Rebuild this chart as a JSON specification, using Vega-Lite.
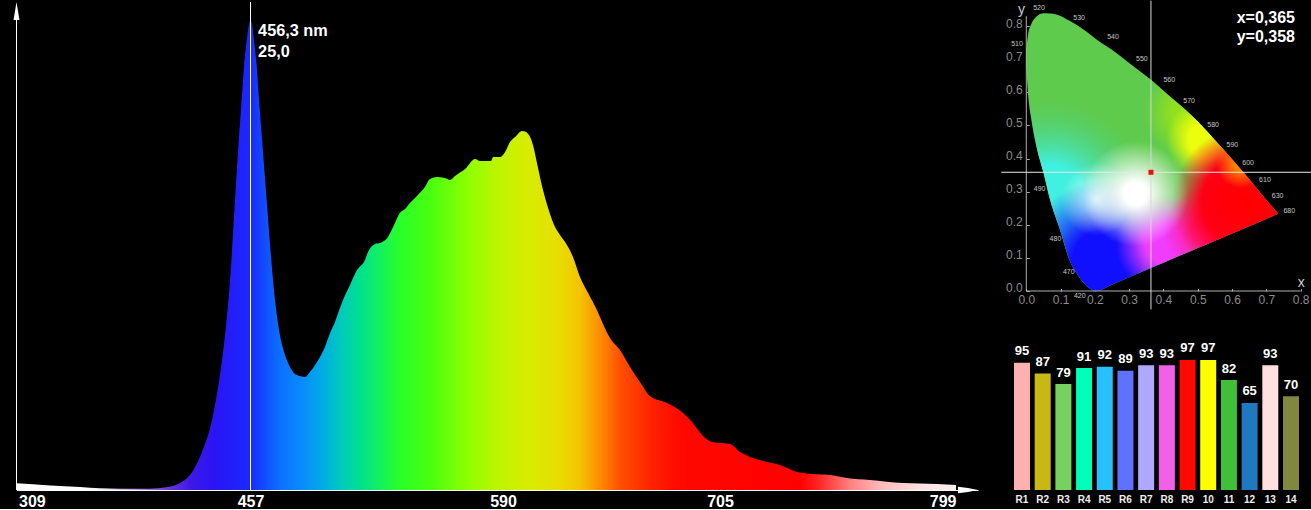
{
"$schema":"https://vega.github.io/schema/vega-lite/v6.json",
"background":"#000000","padding":0,"spacing":0,
"config":{"view":{"stroke":null},"font":"Liberation Sans","axis":{"grid":false,"labelOverlap":false,"labelFlush":false}},
"datasets":{
"gamut":[{"x":0,"y":0.728,"bot":0.678},{"x":0.005,"y":0.773,"bot":0.597},{"x":0.015,"y":0.807,"bot":0.517},{"x":0.03,"y":0.829,"bot":0.435},{"x":0.05,"y":0.839,"bot":0.358},{"x":0.07,"y":0.838,"bot":0.273},{"x":0.1,"y":0.831,"bot":0.18},{"x":0.125,"y":0.817,"bot":0.096},{"x":0.15,"y":0.802,"bot":0.048},{"x":0.175,"y":0.784,"bot":0.016},{"x":0.205,"y":0.76,"bot":0},{"x":0.25,"y":0.729,"bot":0.0198},{"x":0.3,"y":0.689,"bot":0.0418},{"x":0.365,"y":0.637,"bot":0.0703},{"x":0.4,"y":0.605,"bot":0.0857},{"x":0.45,"y":0.56,"bot":0.1077},{"x":0.5,"y":0.512,"bot":0.1297},{"x":0.55,"y":0.456,"bot":0.1517},{"x":0.6,"y":0.398,"bot":0.1736},{"x":0.65,"y":0.338,"bot":0.1956},{"x":0.7,"y":0.275,"bot":0.2176},{"x":0.735,"y":0.233,"bot":0.233}]
},
"hconcat":[
{"width":985,"height":490,
"encoding":{
"x":{"field":"nm","type":"quantitative","scale":{"domain":[309,457,590,705,799,815],"range":[16.5,250.5,503,720,956,978],"nice":false,"zero":false},
"axis":{"title":null,"values":[309,457,590,705,799],"format":"d","ticks":false,"domain":true,"domainColor":"#ffffff","domainWidth":1,"labelColor":"#ffffff","labelFont":"Liberation Sans","labelFontSize":16,"labelFontWeight":"bold","labelPadding":3,"labelAngle":0,"labelAlign":{"expr":"datum.value==309?'left':datum.value==799?'right':'center'"},"labelOffset":{"expr":"datum.value==309?2:0"}}},
"y":{"field":"v","type":"quantitative","scale":{"domain":[0,26.09],"nice":false},"axis":null}},
"layer":[
{"data":{"values":[
{"nm":309,"v":0.36},{"nm":319.4,"v":0.3},{"nm":336.5,"v":0.21},{"nm":349.2,"v":0.16},{"nm":361.8,"v":0.09},{"nm":374.5,"v":0.07},{"nm":393.4,"v":0.07},{"nm":403.6,"v":0.14},{"nm":412.4,"v":0.37},{"nm":418.7,"v":0.8},{"nm":425.1,"v":1.77},{"nm":428.2,"v":2.45},{"nm":431.4,"v":3.27},{"nm":434.6,"v":4.55},{"nm":437.7,"v":6.12},{"nm":440.9,"v":8.25},{"nm":444.1,"v":11.18},{"nm":447.2,"v":15.44},{"nm":449.1,"v":18.0},{"nm":451.4,"v":20.77},{"nm":452.9,"v":22.52},{"nm":454.8,"v":24.07},{"nm":456.1,"v":24.81},{"nm":457,"v":25.0},{"nm":457.8,"v":24.81},{"nm":458.8,"v":23.96},{"nm":460.3,"v":22.52},{"nm":461.5,"v":20.77},{"nm":463.1,"v":18.64},{"nm":465.5,"v":15.44},{"nm":467.3,"v":13.05},{"nm":469.9,"v":10.12},{"nm":472.5,"v":8.25},{"nm":475.2,"v":7.19},{"nm":477.8,"v":6.55},{"nm":480.4,"v":6.18},{"nm":483.1,"v":6.07},{"nm":485.7,"v":6.02},{"nm":488.3,"v":6.28},{"nm":491,"v":6.66},{"nm":493.6,"v":7.08},{"nm":496.2,"v":7.61},{"nm":498.9,"v":8.36},{"nm":501.5,"v":8.95},{"nm":504.1,"v":9.69},{"nm":505.7,"v":10.12},{"nm":509.4,"v":10.92},{"nm":513.1,"v":11.71},{"nm":517.3,"v":12.25},{"nm":518.9,"v":12.67},{"nm":522.6,"v":13.1},{"nm":525.2,"v":13.15},{"nm":529.4,"v":13.47},{"nm":532.1,"v":14.0},{"nm":535.7,"v":14.75},{"nm":538.4,"v":14.96},{"nm":541,"v":15.28},{"nm":545.2,"v":15.71},{"nm":548.9,"v":16.13},{"nm":551.5,"v":16.56},{"nm":555.2,"v":16.67},{"nm":559.4,"v":16.61},{"nm":562.1,"v":16.51},{"nm":564.7,"v":16.72},{"nm":570,"v":17.09},{"nm":575.3,"v":17.63},{"nm":577.9,"v":17.52},{"nm":581.6,"v":17.52},{"nm":583.7,"v":17.52},{"nm":584.8,"v":17.73},{"nm":588.4,"v":17.73},{"nm":591.1,"v":18.0},{"nm":593.7,"v":18.53},{"nm":596.4,"v":18.8},{"nm":600.1,"v":19.12},{"nm":602.2,"v":19.06},{"nm":605.9,"v":18.37},{"nm":608,"v":17.41},{"nm":611.2,"v":15.97},{"nm":613.9,"v":15.02},{"nm":617.6,"v":14.0},{"nm":620.2,"v":13.58},{"nm":623.9,"v":13.05},{"nm":627.1,"v":12.41},{"nm":630.8,"v":11.34},{"nm":635.1,"v":10.49},{"nm":639.8,"v":9.58},{"nm":641.4,"v":9.21},{"nm":646.7,"v":8.09},{"nm":652,"v":7.45},{"nm":657.3,"v":6.55},{"nm":662.6,"v":5.75},{"nm":667.9,"v":5.0},{"nm":676.9,"v":4.63},{"nm":685.4,"v":4.1},{"nm":690.2,"v":3.62},{"nm":695.5,"v":2.93},{"nm":700.8,"v":2.56},{"nm":709,"v":2.45},{"nm":713,"v":2.02},{"nm":717,"v":1.76},{"nm":722.1,"v":1.54},{"nm":728.9,"v":1.33},{"nm":735.7,"v":0.96},{"nm":742,"v":0.85},{"nm":748.8,"v":0.8},{"nm":755.6,"v":0.64},{"nm":764.7,"v":0.53},{"nm":777.9,"v":0.37},{"nm":791.4,"v":0.32},{"nm":799,"v":0.27}
]},
"mark":{"type":"area","interpolate":"monotone","line":false,"fill":{"gradient":"linear","x1":0,"y1":0,"x2":1,"y2":0,"stops":[
{"offset":0,"color":"#ffffff"},{"offset":0.0724,"color":"#ffffff"},{"offset":0.0937,"color":"#f0e8f8"},{"offset":0.1203,"color":"#c8a8e8"},{"offset":0.1416,"color":"#9c68dc"},{"offset":0.1587,"color":"#7038d8"},{"offset":0.1842,"color":"#4018e8"},{"offset":0.2109,"color":"#2a14f4"},{"offset":0.2482,"color":"#1a28ff"},{"offset":0.2801,"color":"#0a70ff"},{"offset":0.3014,"color":"#0a88ff"},{"offset":0.3226,"color":"#00a8e8"},{"offset":0.344,"color":"#00c8c0"},{"offset":0.3653,"color":"#00e090"},{"offset":0.3866,"color":"#14f060"},{"offset":0.4079,"color":"#28ff28"},{"offset":0.4398,"color":"#48ff10"},{"offset":0.4824,"color":"#90ff00"},{"offset":0.5144,"color":"#c0f400"},{"offset":0.5463,"color":"#d8ec00"},{"offset":0.5783,"color":"#e8dc00"},{"offset":0.5996,"color":"#f4c400"},{"offset":0.6209,"color":"#ff8c00"},{"offset":0.6422,"color":"#ff5000"},{"offset":0.6741,"color":"#ff2400"},{"offset":0.7061,"color":"#ff0800"},{"offset":0.8339,"color":"#ff0000"},{"offset":0.8552,"color":"#ff2828"},{"offset":0.8871,"color":"#ff8080"},{"offset":0.9191,"color":"#ffb8b8"},{"offset":0.9617,"color":"#ffe0e0"},{"offset":1,"color":"#fff0f0"}]}}},
{"data":{"values":[{"nm":457,"v":0,"v2":25.98},{"nm":309,"v":0,"v2":25.2}]},
"mark":{"type":"rule","color":"#ffffff","strokeWidth":1},
"encoding":{"y2":{"field":"v2"}}},
{"data":{"values":[{"nm":807.7,"v":0}]},
"mark":{"type":"point","filled":true,"opacity":1,"color":"#ffffff","strokeWidth":0,"size":400,"shape":"M-1,-0.33L0,-0.2L1,0L0,0.2L-1,0.33Z"}},
{"data":{"values":[{"nm":309,"v":25.5}]},
"mark":{"type":"point","filled":true,"opacity":1,"color":"#ffffff","strokeWidth":0,"size":324,"shape":"M0,-1L0.1,-0.4L0.33,1L-0.33,1L-0.1,-0.4Z"}},
{"data":{"values":[{"nm":461,"v":24.43,"t":"456,3 nm"},{"nm":461,"v":23.32,"t":"25,0"}]},
"mark":{"type":"text","align":"left","baseline":"middle","color":"#ffffff","font":"Liberation Sans","fontWeight":"bold","fontSize":16.3},
"encoding":{"text":{"field":"t"}}}
]},
{"spacing":0,"vconcat":[
{"width":326,"height":310,
"encoding":{"x":{"field":"x","type":"quantitative","scale":{"domain":[-0.1204,0.8303],"nice":false,"zero":false},
"axis":{"orient":"bottom","offset":-19,"title":null,"values":[0,0.1,0.2,0.3,0.4,0.5,0.6,0.7,0.8],"format":".1f","domain":false,"tickSize":-2.5,"tickColor":"#aaaaaa","labelColor":"#8c8c8c","labelFont":"Liberation Sans","labelFontSize":12,"labelPadding":5.7}},
"y":{"field":"y","type":"quantitative","scale":{"domain":[-0.0574,0.879],"nice":false,"zero":false},
"axis":{"orient":"left","offset":-41.3,"title":null,"values":[0,0.1,0.2,0.3,0.4,0.5,0.6,0.7,0.8],"format":".1f","domain":false,"tickSize":-3,"tickColor":"#aaaaaa","labelColor":"#8c8c8c","labelFont":"Liberation Sans","labelFontSize":12,"labelPadding":7,"labelOffset":-3}}},
"layer":[
{"data":{"name":"gamut"},"mark":{"type":"area","line":false,"interpolate":"monotone","fill":"#5ecb4c"},"encoding":{"y2":{"field":"bot"}}},
{"data":{"name":"gamut"},"mark":{"type":"area","line":false,"interpolate":"monotone","fill":{"gradient":"radial","x1":0.13,"y1":0.67,"r1":0,"x2":0.13,"y2":0.67,"r2":0.36,"stops":[{"offset":0,"color":"rgba(64,240,224,1)"},{"offset":0.35,"color":"rgba(64,240,224,1)"},{"offset":1,"color":"rgba(80,208,128,0)"}]}},"encoding":{"y2":{"field":"bot"}}},
{"data":{"name":"gamut"},"mark":{"type":"area","line":false,"interpolate":"monotone","fill":{"gradient":"radial","x1":0.63,"y1":0.36,"r1":0,"x2":0.63,"y2":0.36,"r2":0.16,"stops":[{"offset":0,"color":"rgba(145,225,30,1)"},{"offset":0.35,"color":"rgba(145,225,30,1)"},{"offset":1,"color":"rgba(145,225,30,0)"}]}},"encoding":{"y2":{"field":"bot"}}},
{"data":{"name":"gamut"},"mark":{"type":"area","line":false,"interpolate":"monotone","fill":{"gradient":"radial","x1":0.33,"y1":0.9,"r1":0,"x2":0.33,"y2":0.9,"r2":0.3,"stops":[{"offset":0,"color":"rgba(16,16,255,1)"},{"offset":0.4,"color":"rgba(16,16,255,1)"},{"offset":1,"color":"rgba(16,16,255,0)"}]}},"encoding":{"y2":{"field":"bot"}}},
{"data":{"name":"gamut"},"mark":{"type":"area","line":false,"interpolate":"monotone","fill":{"gradient":"radial","x1":0.55,"y1":0.83,"r1":0,"x2":0.55,"y2":0.83,"r2":0.18,"stops":[{"offset":0,"color":"rgba(240,60,255,1)"},{"offset":0.4,"color":"rgba(240,60,255,1)"},{"offset":1,"color":"rgba(240,60,255,0)"}]}},"encoding":{"y2":{"field":"bot"}}},
{"data":{"name":"gamut"},"mark":{"type":"area","line":false,"interpolate":"monotone","fill":{"gradient":"radial","x1":0.7,"y1":0.78,"r1":0,"x2":0.7,"y2":0.78,"r2":0.16,"stops":[{"offset":0,"color":"rgba(255,30,150,1)"},{"offset":0.35,"color":"rgba(255,30,150,1)"},{"offset":1,"color":"rgba(255,30,150,0)"}]}},"encoding":{"y2":{"field":"bot"}}},
{"data":{"name":"gamut"},"mark":{"type":"area","line":false,"interpolate":"monotone","fill":{"gradient":"radial","x1":0.7,"y1":0.456,"r1":0,"x2":0.7,"y2":0.456,"r2":0.15,"stops":[{"offset":0,"color":"rgba(235,255,10,1)"},{"offset":0.45,"color":"rgba(235,255,10,1)"},{"offset":1,"color":"rgba(235,255,10,0)"}]}},"encoding":{"y2":{"field":"bot"}}},
{"data":{"name":"gamut"},"mark":{"type":"area","line":false,"interpolate":"monotone","fill":{"gradient":"radial","x1":0.84,"y1":0.68,"r1":0,"x2":0.84,"y2":0.68,"r2":0.27,"stops":[{"offset":0,"color":"rgba(255,0,0,1)"},{"offset":0.6,"color":"rgba(255,0,20,1)"},{"offset":1,"color":"rgba(255,0,60,0)"}]}},"encoding":{"y2":{"field":"bot"}}},
{"data":{"name":"gamut"},"mark":{"type":"area","line":false,"interpolate":"monotone","fill":{"gradient":"radial","x1":0.82,"y1":0.54,"r1":0,"x2":0.82,"y2":0.54,"r2":0.09,"stops":[{"offset":0,"color":"rgba(255,130,0,1)"},{"offset":0.3,"color":"rgba(255,130,0,1)"},{"offset":1,"color":"rgba(255,130,0,0)"}]}},"encoding":{"y2":{"field":"bot"}}},
{"data":{"name":"gamut"},"mark":{"type":"area","line":false,"interpolate":"monotone","fill":{"gradient":"radial","x1":0.3,"y1":0.67,"r1":0,"x2":0.3,"y2":0.67,"r2":0.13,"stops":[{"offset":0,"color":"rgba(235,255,255,0.85)"},{"offset":1,"color":"rgba(235,255,255,0)"}]}},"encoding":{"y2":{"field":"bot"}}},
{"data":{"name":"gamut"},"mark":{"type":"area","line":false,"interpolate":"monotone","fill":{"gradient":"radial","x1":0.44,"y1":0.65,"r1":0,"x2":0.44,"y2":0.65,"r2":0.19,"stops":[{"offset":0,"color":"rgba(255,255,255,1)"},{"offset":0.22,"color":"rgba(255,255,255,1)"},{"offset":1,"color":"rgba(255,255,255,0)"}]}},"encoding":{"y2":{"field":"bot"}}},
{"data":{"values":[{"x":0,"x2":0.8,"y":0}]},"mark":{"type":"rule","color":"#b0b0b0","strokeWidth":1},"encoding":{"x2":{"field":"x2"}}},
{"data":{"values":[{"x":0,"y":0,"y2":0.83}]},"mark":{"type":"rule","color":"#b0b0b0","strokeWidth":1},"encoding":{"y2":{"field":"y2"}}},
{"data":{"values":[{"x":0.3636,"y":-0.0555,"y2":0.877}]},"mark":{"type":"rule","color":"#d8d8d8","strokeWidth":1},"encoding":{"y2":{"field":"y2"}}},
{"data":{"values":[{"x":-0.073,"x2":0.8303,"y":0.3586}]},"mark":{"type":"rule","color":"#e8e8e8","strokeWidth":1},"encoding":{"x2":{"field":"x2"}}},
{"data":{"values":[{"x":0.3636,"y":0.3586}]},"mark":{"type":"square","color":"#e81010","size":25,"opacity":1}},
{"data":{"values":[{"x":0.037,"y":0.854,"t":"520"},{"x":0.154,"y":0.826,"t":"530"},{"x":0.253,"y":0.766,"t":"540"},{"x":0.337,"y":0.7,"t":"550"},{"x":0.417,"y":0.637,"t":"560"},{"x":0.475,"y":0.574,"t":"570"},{"x":0.545,"y":0.501,"t":"580"},{"x":0.601,"y":0.44,"t":"590"},{"x":0.647,"y":0.388,"t":"600"},{"x":0.696,"y":0.335,"t":"610"},{"x":0.733,"y":0.286,"t":"630"},{"x":0.767,"y":0.241,"t":"680"},{"x":-0.027,"y":0.747,"t":"510"},{"x":0.039,"y":0.309,"t":"490"},{"x":0.085,"y":0.158,"t":"480"},{"x":0.124,"y":0.058,"t":"470"},{"x":0.156,"y":-0.014,"t":"420"}]},
"mark":{"type":"text","fontSize":7,"color":"#c8c8c8","align":"center","baseline":"middle","font":"Liberation Sans"},"encoding":{"text":{"field":"t"}}},
{"data":{"values":[{"x":0.802,"y":0.024,"t":"x"},{"x":-0.014,"y":0.85,"t":"y"}]},
"mark":{"type":"text","fontSize":14,"color":"#cccccc","align":"center","baseline":"middle","font":"Liberation Sans"},"encoding":{"text":{"field":"t"}}},
{"data":{"values":[{"x":0.7836,"y":0.825,"t":"x=0,365"},{"x":0.7836,"y":0.767,"t":"y=0,358"}]},
"mark":{"type":"text","fontSize":16,"fontWeight":"bold","color":"#ffffff","align":"right","baseline":"middle","font":"Liberation Sans"},"encoding":{"text":{"field":"t"}}}
]},
{"width":326,"height":180,
"data":{"values":[{"r":"R1","v":95},{"r":"R2","v":87},{"r":"R3","v":79},{"r":"R4","v":91},{"r":"R5","v":92},{"r":"R6","v":89},{"r":"R7","v":93},{"r":"R8","v":93},{"r":"R9","v":97},{"r":"10","v":97},{"r":"11","v":82},{"r":"12","v":65},{"r":"13","v":93},{"r":"14","v":70}]},
"encoding":{"x":{"field":"r","type":"nominal","sort":null,"scale":{"range":[26.65,316.35],"paddingInner":0.227,"paddingOuter":0.1135},
"axis":{"title":null,"domain":false,"ticks":false,"labelAngle":0,"labelColor":"#eeeeee","labelFont":"Liberation Sans","labelFontSize":10,"labelFontWeight":"bold","labelPadding":4.8}},
"y":{"field":"v","type":"quantitative","scale":{"domain":[0,134.3],"nice":false},"axis":null}},
"layer":[
{"mark":{"type":"bar"},
"encoding":{"color":{"field":"r","type":"nominal","sort":null,"legend":null,"scale":{"domain":["R1","R2","R3","R4","R5","R6","R7","R8","R9","10","11","12","13","14"],"range":["#ffb0b0","#c8b814","#78d060","#00ffb8","#28c0ff","#6070ff","#b0a8ff","#f060e8","#ff0800","#ffff00","#40c038","#2078c0","#ffe0e0","#808840"]}}}},
{"mark":{"type":"text","color":"#ffffff","font":"Liberation Sans","fontWeight":"bold","fontSize":13,"baseline":"alphabetic","dy":-7.5},
"encoding":{"text":{"field":"v","type":"quantitative"}}}
]}
]}
]}
